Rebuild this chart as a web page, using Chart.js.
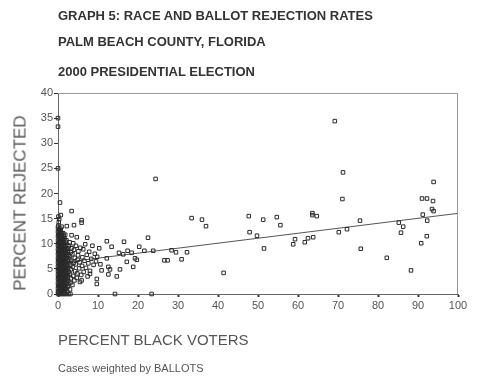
<!DOCTYPE html>
<html>
<head>
<meta charset="utf-8">
<script src="https://cdn.jsdelivr.net/npm/chart.js@4"></script>
<style>
  html, body { margin: 0; padding: 0; background: #fff; }
  #wrap { position: relative; width: 481px; height: 385px; font-family: "Liberation Sans", Arial, sans-serif; }
  #chart { position: absolute; left: 0; top: 0; }
  .txt { position: absolute; white-space: nowrap; }
  .ttl { left: 58px; font-weight: bold; font-size: 13px; line-height: 15px; color: #333; }
</style>
</head>
<body>
<div id="wrap">
  <canvas id="chart" width="481" height="385"></canvas>
  <div class="txt ttl" style="top:8px">GRAPH 5: RACE AND BALLOT REJECTION RATES</div>
  <div class="txt ttl" style="top:34px">PALM BEACH COUNTY, FLORIDA</div>
  <div class="txt ttl" style="top:64px">2000 PRESIDENTIAL ELECTION</div>
  <div class="txt" id="ytitle" style="left:20px;top:203px;font-size:17px;line-height:17px;color:#555;transform:translate(-50%,-50%) rotate(-90deg)">PERCENT REJECTED</div>
  <div class="txt" style="left:58px;top:332px;font-size:15px;line-height:16px;color:#555">PERCENT BLACK VOTERS</div>
  <div class="txt" style="left:58px;top:362px;font-size:11px;line-height:13px;color:#555">Cases weighted by BALLOTS</div>
</div>
<script>
// precinct points: [percent black voters, percent rejected]
const PRECINCTS = [
  // dense block near 0
  [0,0.5],[0,1.2],[0,2.1],[0,3],[0,3.8],[0,4.6],[0,5.5],[0,6.3],[0,7.1],[0,8],[0,8.9],[0,9.7],[0,10.6],[0,11.5],[0,12.4],[0,13.2],
  [0.1,0.3],[0.1,1.6],[0.2,2.5],[0.1,3.3],[0.2,4.2],[0.1,5],[0.2,5.9],[0.1,6.7],[0.2,7.5],[0.1,8.4],[0.2,9.3],[0.1,10.1],[0.2,11],[0.1,11.8],[0.2,12.7],[0.1,13.6],[0.2,14.3],[0.1,15.4],
  [0.3,0.8],[0.3,1.7],[0.4,2.6],[0.3,3.4],[0.4,4.2],[0.3,5.1],[0.4,5.9],[0.3,6.8],[0.4,7.6],[0.3,8.5],[0.4,9.3],[0.3,10.2],[0.4,11],[0.3,11.9],[0.4,12.8],[0.3,14.9],
  [0.55,0.2],[0.55,1.1],[0.5,2],[0.6,2.9],[0.5,3.7],[0.6,4.5],[0.5,5.4],[0.6,6.2],[0.5,7],[0.6,7.9],[0.5,8.8],[0.6,9.6],[0.5,10.5],[0.6,11.4],[0.5,12.2],[0.6,13],
  [0.7,0.4],[0.8,1.4],[0.7,2.3],[0.8,3.1],[0.7,4],[0.8,4.8],[0.7,5.7],[0.8,6.5],[0.7,7.4],[0.8,8.2],[0.7,9.1],[0.8,9.9],[0.7,10.8],[0.8,11.7],[0.7,12.5],[0.9,13.4],
  [0.95,0.6],[1,1.6],[0.95,2.5],[1,3.4],[0.95,4.3],[1,5.1],[0.95,6],[1,6.8],[0.95,7.7],[1,8.5],[0.95,9.4],[1,10.2],[0.95,11.1],[1,12],
  [1.1,0.9],[1.2,1.9],[1.1,2.8],[1.2,3.6],[1.1,4.5],[1.2,5.3],[1.1,6.1],[1.2,7],[1.1,7.8],[1.2,8.7],[1.1,9.5],[1.2,10.4],[1.1,11.3],[1.3,12.1],
  [1.35,0.3],[1.4,1.2],[1.35,2.1],[1.4,3],[1.35,3.9],[1.4,4.7],[1.35,5.6],[1.4,6.4],[1.35,7.3],[1.4,8.1],[1.35,9],[1.4,9.8],[1.35,10.7],[1.4,11.6],
  [1.6,0.6],[1.5,1.5],[1.6,2.4],[1.5,3.3],[1.6,4.1],[1.5,5],[1.6,5.8],[1.5,6.7],[1.6,7.5],[1.5,8.4],[1.7,9.2],[1.5,10.1],[1.6,11],[1.8,11.8],
  [1.8,0.9],[1.85,1.8],[1.8,2.7],[1.85,3.5],[1.8,4.4],[1.85,5.2],[1.8,6.1],[1.85,6.9],[1.8,7.8],[1.85,8.6],[1.8,9.5],[1.9,10.4],
  [2,1.1],[2.1,2],[2,2.9],[2.1,3.8],[2,4.7],[2.1,5.5],[2,6.4],[2.2,7.2],[2,8.1],[2.1,8.9],[2.3,9.8],[2.1,10.7],
  [2.3,0.5],[2.35,1.4],[2.3,2.3],[2.35,3.2],[2.3,4.1],[2.35,4.9],[2.3,5.8],[2.4,6.6],[2.3,7.5],[2.4,8.3],[2.35,9.1],
  [2.5,1.6],[2.6,2.6],[2.5,3.5],[2.7,4.4],[2.5,5.2],[2.6,6.1],[2.8,6.9],[2.6,7.8],[2.5,8.6],[2.7,9.5],[2.9,10.3],
  [3,0.9],[3.1,2.2],[3.2,3.1],[3,4],[3.2,4.9],[3.1,5.8],[3.3,6.6],[3,7.5],[3.2,8.3],[3.4,9.1],
  // spreading out to 10
  [3.6,1.8],[3.8,3.6],[3.7,5.4],[3.9,6.2],[3.6,7.9],[4,8.8],[3.8,10.1],[4.1,2.7],[4.3,4.5],[4.4,5.9],[4.2,7.2],[4.5,9.6],
  [4.7,3.2],[4.8,4.1],[4.9,6.8],[5,7.7],[5.1,8.5],[5.3,5.1],[5.4,6.3],[5.6,9.2],[5.5,2.4],[5.8,3.8],[6,5.6],[6.1,7.3],
  [6.3,8.9],[6.4,4.4],[6.6,6.6],[6.8,9.9],[7,5.2],[7.2,7.8],[7.4,3.5],[7.6,6.1],[7.8,8.4],[8,4.6],[8.3,7],[8.6,9.6],
  [8.9,5.8],[9.2,8],[9.5,6.5],[9.8,7.4],[10.3,9.1],[10.6,5.9],
  [7.3,11.2],[9.7,3],[9.7,2],[8,4],[5.9,2.7],[10.9,4.7],[3.4,11.7],[4.7,11.3],[4,13.7],[2.2,13.5],
  // 10 to 25
  [12.2,10.5],[16.5,10.4],[22.5,11.2],[13.4,9.4],[15.25,8.2],[16.3,7.9],[17.4,8.6],[18.4,8.2],[20.3,9.4],[21.6,8.6],
  [23.8,8.6],[12.2,7.1],[17.2,6.4],[19.25,7.1],[19.7,6.8],[18.8,5.4],[12.6,5.4],[13,4.9],[15.5,4.9],[12.6,3.9],[14.7,3.5],
  // high outliers near 0
  [0,33.3],[0,35],[0,25],[0.5,18.2],[3.4,16.5],[0.7,15.7],[5.9,14.7],[5.9,14.2],[24.4,22.9],
  // zero rejections
  [0,0],[0.5,0],[1,0],[1.5,0],[2,0],[2.6,0],[3.1,0],[14.25,0],[23.4,0],
  // 25 to 65
  [26.6,6.7],[27.4,6.7],[28.4,8.7],[29.5,8.3],[30.9,6.9],[32.25,8.3],[33.4,15.1],[36,14.8],[37,13.5],[41.4,4.2],
  [47.7,15.5],[47.9,12.3],[49.75,11.6],[51.3,14.8],[51.5,9.06],[54.7,15.3],[55.6,13.7],[58.8,9.9],[59.25,10.9],
  [61.7,10.3],[62.5,11.1],[63.8,11.3],[63.6,16.1],[63.6,15.7],[64.7,15.5],
  // 65 to 100
  [69.2,34.4],[71.25,24.2],[71.1,18.9],[70.2,12.3],[72.25,12.9],[75.5,14.6],[75.7,9.0],[82.2,7.2],[85.2,14.2],
  [86.3,13.4],[85.75,12.2],[88.25,4.7],[90.8,10.1],[91,19],[92.25,19],[91.2,15.8],[92.2,11.5],[92.3,14.6],
  [93.75,18.5],[93.9,22.3],[93.5,16.9],[93.9,16.5]
];

// fitted line end points
const FIT_X = [0, 100];
const FIT_Y = [6.15, 16.05];

const X_TICKS = [0, 10, 20, 30, 40, 50, 60, 70, 80, 90, 100];
const Y_TICKS = [0, 5, 10, 15, 20, 25, 30, 35, 40];

const TICK_FONT = { family: "'Liberation Sans', Arial, sans-serif", size: 11 };

// grey frame on the top and right of the plot
const frame = {
  id: "frame",
  afterDraw(chart) {
    const { ctx, chartArea: a } = chart;
    ctx.save();
    ctx.strokeStyle = "#9a9a9a";
    ctx.lineWidth = 1;
    ctx.beginPath();
    ctx.moveTo(a.left, a.top + 0.5);
    ctx.lineTo(a.right - 0.5, a.top + 0.5);
    ctx.lineTo(a.right - 0.5, a.bottom);
    ctx.stroke();
    ctx.restore();
  }
};

new Chart(document.getElementById("chart"), {
  type: "scatter",
  data: {
    datasets: [
      {
        label: "Precincts",
        data: PRECINCTS.map(p => ({ x: p[0], y: p[1] })),
        pointStyle: "rect",
        pointRadius: 2.5,
        borderWidth: 1,
        borderColor: "#2a2a2a",
        backgroundColor: "rgba(0,0,0,0)",
        clip: false,
      },
      {
        type: "line",
        label: "Fit",
        data: FIT_X.map((x, i) => ({ x, y: FIT_Y[i] })),
        borderColor: "#555",
        borderWidth: 1,
        pointRadius: 0,
        fill: false,
      },
    ],
  },
  options: {
    responsive: false,
    animation: false,
    events: [],
    layout: { padding: { top: 93, right: 23, left: 0, bottom: 0 } },
    plugins: { legend: { display: false }, tooltip: { enabled: false } },
    scales: {
      x: {
        type: "linear",
        min: 0, max: 100,
        afterFit(s) { s.height = 91; },
        afterBuildTicks(s) { s.ticks = X_TICKS.map(v => ({ value: v })); },
        ticks: { color: "#555", font: TICK_FONT, padding: 2, maxRotation: 0 },
        grid: { drawOnChartArea: false, drawTicks: true, tickLength: 3, tickWidth: 2, tickColor: "#333" },
        border: { display: true, color: "#666", width: 1 },
      },
      y: {
        type: "linear",
        min: 0, max: 40,
        afterFit(s) { s.width = 58; },
        afterBuildTicks(s) { s.ticks = Y_TICKS.map(v => ({ value: v })); },
        ticks: { color: "#555", font: TICK_FONT, padding: 1 },
        grid: { drawOnChartArea: false, drawTicks: true, tickLength: 4, tickWidth: 1, tickColor: "#333" },
        border: { display: true, color: "#666", width: 1 },
      },
    },
  },
  plugins: [frame],
});
</script>
</body>
</html>
